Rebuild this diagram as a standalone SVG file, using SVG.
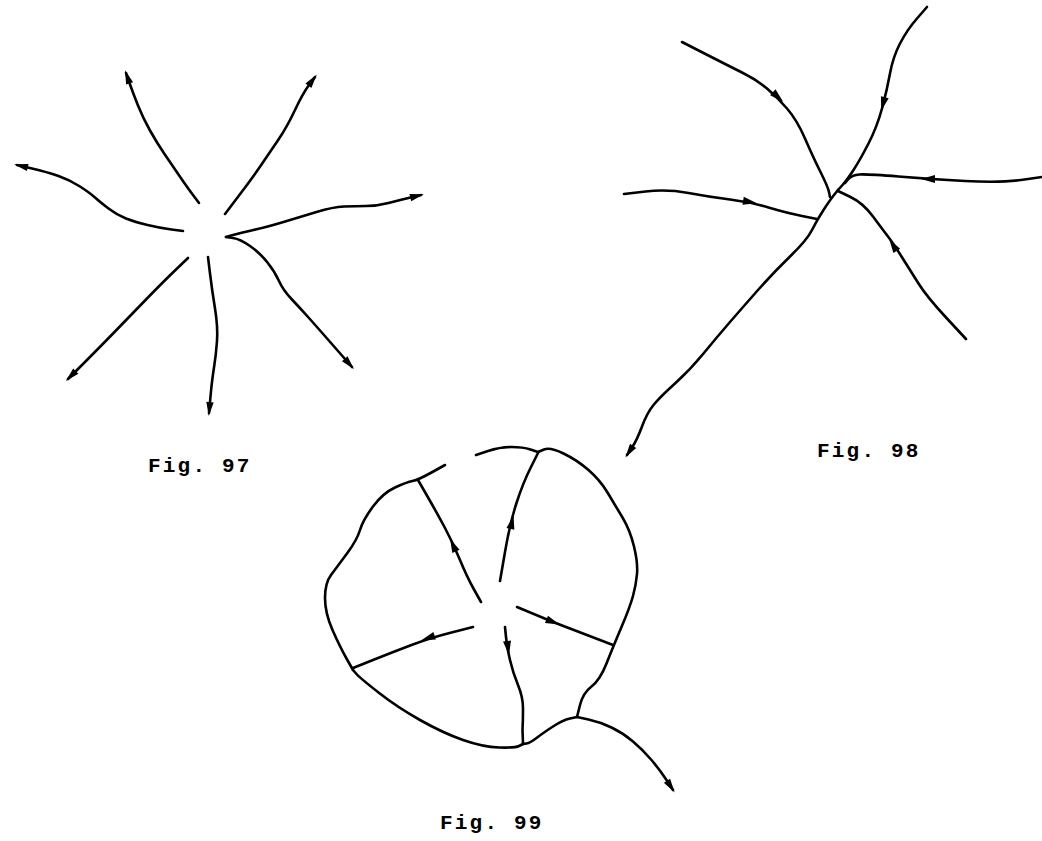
<svg xmlns="http://www.w3.org/2000/svg" width="1042" height="841" viewBox="0 0 1042 841">
<style>
.c{fill:none;stroke:#000;stroke-width:2.6;stroke-linecap:round;stroke-linejoin:round}
.e{marker-end:url(#tip)}
.lbl{font-family:"Liberation Mono","DejaVu Sans Mono",monospace;font-size:21px;font-weight:bold;fill:#000;letter-spacing:2.2px}
</style>
<defs>
<marker id="tip" markerUnits="userSpaceOnUse" markerWidth="18" markerHeight="10" refX="12" refY="4.5" orient="auto" viewBox="0 0 18 9">
<path d="M15,4.5 L1,0.8 L1,8.2 Z" fill="#000"/>
</marker>
<path id="ah" d="M7,0 L-7,-4 L-7,4 Z" fill="#000"/>
</defs>
<rect width="1042" height="841" fill="#fff"/>

<g id="fig97">
<g id="fig97-lines">
<path class="c e" d="M199,203 L193,195 Q187,187 179.5,176 Q172,165 164.5,154 Q157,143 150,130.5 Q143,118 138,105.5 Q133,93 129.5,83 L126,73"/>
<path class="c e" d="M225,214 L239,195.5 Q253,177 261.5,164.5 Q270,152 278.5,139.5 Q287,127 295,110 Q303,93 309,85 L315,77"/>
<path class="c e" d="M183,231 L171.5,229.5 Q160,228 147.5,225 Q135,222 126,218.5 Q117,215 108.5,208.5 Q100,202 95,197.5 Q90,193 80,186.5 Q70,180 58.5,176 Q47,172 32,168.5 L17,165"/>
<path class="c e" d="M226,237 L233,235 Q240,233 253.5,230 Q267,227 283.5,222 Q300,217 316.5,212 Q333,207 344,206.5 Q355,206 366,206 Q377,206 388.5,203 Q400,200 410.5,197.5 L421,195"/>
<path class="c e" d="M226,237 L233,238 Q240,239 250,246 Q260,253 267.5,262.5 Q275,272 279,281 Q283,290 291.5,299 Q300,308 308.5,317.5 Q317,327 334.5,347 L352,367"/>
<path class="c e" d="M188,258 L175.5,270 Q163,282 146.5,299 Q130,316 115,331.5 Q100,347 84,363 L68,379"/>
<path class="c e" d="M208,257 L210,273.5 Q212,290 215,308.5 Q218,327 217,341 Q216,355 214,367.5 Q212,380 210.5,396.5 L209,413"/>
</g>
<text id="fig97-label" class="lbl" x="148" y="472">Fig. 97</text>
</g>

<g id="fig98">
<g id="fig98-lines">
<path class="c" d="M682,42 L704.5,53.5 Q727,65 742,72.5 Q757,80 767,88.5 Q777,97 787,108.5 Q797,120 805,138.5 Q813,157 820.5,172 Q828,187 829,192 L830,197"/>
<path class="c" d="M927,7 L917,18.5 Q907,30 900,43.5 Q893,57 890,73.5 Q887,90 882,108.5 Q877,127 868.5,143.5 Q860,160 853.5,170 Q847,180 842.5,185 L838,190"/>
<path class="c" d="M1042,177 L1021,180 Q1000,183 965,181 Q930,179 898.5,176.5 Q867,174 859.5,174.5 Q852,175 848.5,179 L845,183"/>
<path class="c" d="M624,194 L645.5,191.5 Q667,189 688.5,193 Q710,197 730,199.5 Q750,202 768.5,207.5 Q787,213 802,216 L817,219"/>
<path class="c" d="M838,191 L850.5,197 Q863,203 873,216.5 Q883,230 888,236.5 Q893,243 901.5,256.5 Q910,270 918.5,283.5 Q927,297 946.5,318 L966,339"/>
<path class="c e" d="M838,190 L834,195 Q830,200 823.5,210 Q817,220 812,230 Q807,240 790,256.5 Q773,273 758,290 Q743,307 730,322 Q717,337 703.5,353.5 Q690,370 675,383.5 Q660,397 653.5,405 Q647,413 642,426.5 Q637,440 632,447.5 L627,455"/>
</g>
<g id="fig98-arrows">
<use href="#ah" transform="translate(778,97) rotate(42)"/>
<use href="#ah" transform="translate(883,104) rotate(105)"/>
<use href="#ah" transform="translate(928,179) rotate(180)"/>
<use href="#ah" transform="translate(750,202) rotate(10)"/>
<use href="#ah" transform="translate(893,245) rotate(237)"/>
</g>
<text id="fig98-label" class="lbl" x="817" y="457">Fig. 98</text>
</g>

<g id="fig99">
<g id="fig99-lines">
<path class="c" d="M476,455 L488,451 Q500,447 511.5,447 Q523,447 530.5,449.5 L538,452"/>
<path class="c" d="M538,452 L544,449.5 Q550,447 563.5,453.5 Q577,460 588.5,470 Q600,480 607.5,492.5 Q615,505 622.5,517.5 Q630,530 634,546.5 Q638,563 637,574 Q636,585 633,596 Q630,607 621.5,627 Q613,647 606.5,663.5 Q600,680 591.5,686.5 Q583,693 580,705 L577,717"/>
<path class="c" d="M577,717 L570,718.5 Q563,720 553,726.5 Q543,733 536.5,738 Q530,743 526.5,743.5 L523,744"/>
<path class="c" d="M505,627 L506,637 Q507,647 510,660 Q513,673 518,685 Q523,697 523,708.5 Q523,720 522.5,730 L523,744"/>
<path class="c" d="M523,744 L519,746 Q515,748 499,747.5 Q483,747 463,740 Q443,733 420,720 Q397,707 378.5,692.5 Q360,678 356.5,674 L353,670"/>
<path class="c" d="M353,670 L346.5,658.5 Q340,647 332.5,630 Q325,613 325,598 Q325,583 331,575 Q337,567 347,553.5 Q357,540 360,530 Q363,520 373,506.5 Q383,493 395,487.5 Q407,482 412.5,481 Q418,480 431.5,472.5 L445,465"/>
<path class="c" d="M481,602 L474,589.5 Q467,577 460,560 Q453,543 445,528 Q437,513 427.5,496.5 L418,480"/>
<path class="c" d="M500,581 L505,552 Q510,523 516.5,503 Q523,483 530.5,468 L538,453"/>
<path class="c" d="M517,607 L553,622 L613,645"/>
<path class="c" d="M473,627 L451.5,632.5 Q430,638 411.5,645 Q393,652 373,660 L353,668"/>
<path class="c e" d="M577,717 L588.5,719.5 Q600,722 611.5,727.5 Q623,733 633,741.5 Q643,750 651.5,760 Q660,770 666.5,780 L673,790"/>
</g>
<g id="fig99-arrows">
<use href="#ah" transform="translate(453,545) rotate(-115)"/>
<use href="#ah" transform="translate(512,522) rotate(-77)"/>
<use href="#ah" transform="translate(553,622) rotate(22)"/>
<use href="#ah" transform="translate(428,638) rotate(161)"/>
<use href="#ah" transform="translate(508,648) rotate(82)"/>
</g>
<text id="fig99-label" class="lbl" x="440" y="829">Fig. 99</text>
</g>
</svg>
